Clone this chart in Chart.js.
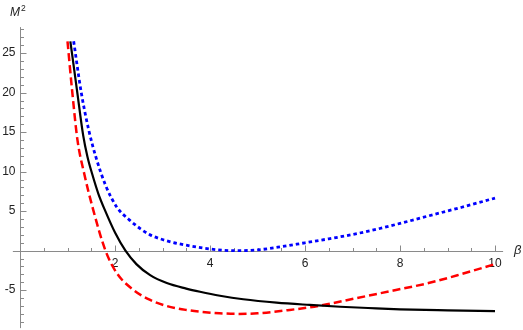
<!DOCTYPE html>
<html>
<head>
<meta charset="utf-8">
<script src="https://cdn.jsdelivr.net/npm/chart.js@4.4.0/dist/chart.umd.min.js"></script>
<style>
  html, body { margin: 0; padding: 0; background: #fff; }
  #wrap { width: 523px; height: 330px; }
</style>
</head>
<body>
<div id="wrap"><canvas id="myChart" width="523" height="330"></canvas></div>
<script>
// ---- values ----
const betaBlack = [1.06, 1.20, 1.33, 1.42, 1.52, 1.65, 1.79, 2.00, 2.22, 2.45, 2.74, 3.09, 3.50, 3.79, 4.21, 4.70, 5.40, 6.10, 6.74, 7.50, 8.00, 9.00, 10.00];
const m2Black   = [26.5, 20.3, 14.6, 11.9, 9.7, 7.2, 5.1, 2.3, 0.0, -1.7, -3.1, -4.1, -4.8, -5.2, -5.7, -6.15, -6.58, -6.87, -7.1, -7.3, -7.42, -7.55, -7.65];

const betaRed = [1.00, 1.10, 1.21, 1.35, 1.54, 1.80, 2.04, 2.39, 2.74, 3.09, 3.50, 3.79, 4.20, 4.60, 5.00, 5.68, 6.28, 7.09, 7.89, 8.60, 9.30, 10.00];
const m2Red   = [26.5, 20.1, 14.0, 9.8, 5.2, 0.0, -2.86, -4.97, -6.24, -7.0, -7.5, -7.72, -7.92, -8.0, -7.93, -7.5, -7.0, -6.0, -5.0, -4.1, -2.95, -1.7];

const betaBlue = [1.13, 1.29, 1.45, 1.60, 1.80, 2.04, 2.30, 2.53, 2.74, 3.09, 3.50, 3.90, 4.28, 4.60, 5.00, 5.50, 6.00, 6.50, 7.00, 7.50, 8.00, 8.60, 9.30, 10.00];
const m2Blue   = [26.5, 20.0, 15.2, 11.8, 8.3, 5.5, 3.9, 2.8, 2.0, 1.25, 0.7, 0.3, 0.05, 0.0, 0.1, 0.5, 1.0, 1.5, 2.05, 2.7, 3.45, 4.4, 5.5, 6.65];

const xTicks = [2, 4, 6, 8, 10];
const yTicks = [-5, 5, 10, 15, 20, 25];

const toPoints = (xs, ys) => xs.map((x, i) => ({ x: x, y: ys[i] }));

// Mathematica style axes crossing at the origin
const axesPlugin = {
  id: 'mathAxes',
  beforeDatasetsDraw(chart) {
    const { ctx, scales: { x, y } } = chart;
    const x0 = Math.round(x.getPixelForValue(0)) + 0.5;
    const y0 = Math.round(y.getPixelForValue(0)) + 0.5;
    ctx.save();
    ctx.strokeStyle = '#8a8a8a';
    ctx.lineWidth = 1;

    ctx.beginPath();
    ctx.moveTo(x.getPixelForValue(-0.15), y0);
    ctx.lineTo(x.getPixelForValue(10.17), y0);
    ctx.moveTo(x0, y.getPixelForValue(28.3));
    ctx.lineTo(x0, y.getPixelForValue(-9.8));
    ctx.stroke();

    // x ticks (pointing up)
    ctx.beginPath();
    for (let b = 0.5; b <= 10.01; b += 0.5) {
      const px = Math.round(x.getPixelForValue(b)) + 0.5;
      const len = (Math.abs(b % 2) < 0.01) ? 6 : 3.5;
      ctx.moveTo(px, y0);
      ctx.lineTo(px, y0 - len);
    }
    // y ticks (pointing right)
    for (let m = -9; m <= 28; m++) {
      if (m === 0) continue;
      const py = Math.round(y.getPixelForValue(m)) + 0.5;
      const len = (m % 5 === 0) ? 6 : 3.5;
      ctx.moveTo(x0, py);
      ctx.lineTo(x0 + len, py);
    }
    ctx.stroke();

    ctx.fillStyle = '#222';
    ctx.font = '12px "Liberation Sans", Arial, sans-serif';
    ctx.textAlign = 'center';
    ctx.textBaseline = 'middle';
    xTicks.forEach(v => ctx.fillText(String(v), x.getPixelForValue(v), y0 + 12));
    ctx.textAlign = 'right';
    yTicks.forEach(v => ctx.fillText(String(v), x0 - 5, y.getPixelForValue(v)));

    // axis labels
    ctx.textAlign = 'left';
    ctx.textBaseline = 'alphabetic';
    ctx.font = 'italic 12px "Liberation Sans", Arial, sans-serif';
    ctx.fillText('M', 10, 15.5);
    ctx.font = '8.5px "Liberation Sans", Arial, sans-serif';
    ctx.fillText('2', 21, 11);
    ctx.font = 'italic 13px "Liberation Sans", Arial, sans-serif';
    ctx.fillText('β', 514, 254);
    ctx.restore();
  }
};

new Chart(document.getElementById('myChart').getContext('2d'), {
  type: 'line',
  data: {
    datasets: [
      {
        label: 'black',
        data: toPoints(betaBlack, m2Black),
        borderColor: '#000000',
        borderWidth: 2.2,
        pointRadius: 0,
        cubicInterpolationMode: 'monotone'
      },
      {
        label: 'red',
        data: toPoints(betaRed, m2Red),
        borderColor: '#ff0000',
        borderWidth: 2.5,
        borderDash: [8, 4],
        pointRadius: 0,
        cubicInterpolationMode: 'monotone'
      },
      {
        label: 'blue',
        data: toPoints(betaBlue, m2Blue),
        borderColor: '#0000ff',
        borderWidth: 2.8,
        borderDash: [3.5, 3],
        pointRadius: 0,
        cubicInterpolationMode: 'monotone'
      }
    ]
  },
  options: {
    responsive: false,
    animation: false,
    layout: { padding: 0 },
    scales: {
      x: { type: 'linear', display: false, min: -0.421, max: 10.589 },
      y: { type: 'linear', display: false, min: -10.04, max: 31.73 }
    },
    plugins: {
      legend: { display: false },
      tooltip: { enabled: false }
    }
  },
  plugins: [axesPlugin]
});
</script>
</body>
</html>
